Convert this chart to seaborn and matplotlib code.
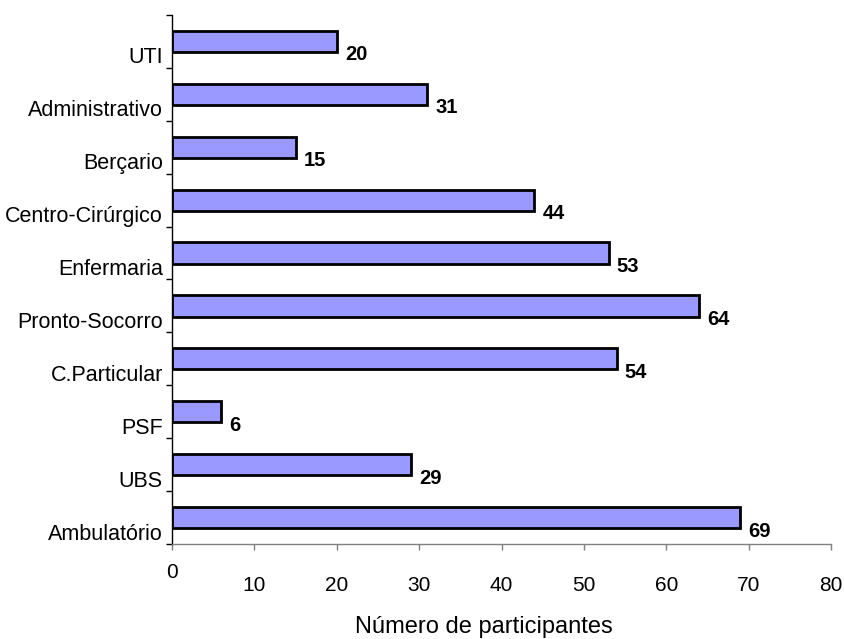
import matplotlib
matplotlib.use("Agg")
import matplotlib.pyplot as plt
from matplotlib.transforms import ScaledTranslation
import numpy as np
import pandas as pd
import seaborn as sns

# Setores de atuação (de cima para baixo) e número de participantes
setores = ["UTI", "Administrativo", "Berçario", "Centro-Cirúrgico", "Enfermaria",
           "Pronto-Socorro", "C.Particular", "PSF", "UBS", "Ambulatório"]
participantes = [20, 31, 15, 44, 53, 64, 54, 6, 29, 69]
x_ticks = [0, 10, 20, 30, 40, 50, 60, 70, 80]
x_label = "Número de participantes"

sns.set_style("ticks")
plt.rcParams["font.family"] = ["Liberation Sans", "DejaVu Sans"]
plt.rcParams.update({"text.color": "black", "axes.labelcolor": "black",
                     "xtick.color": "black", "ytick.color": "black"})

W, H = 845, 639
fig = plt.figure(figsize=(W / 100, H / 100), dpi=100)
ax = fig.add_axes([172 / W, 1 - 544 / H, (831 - 172) / W, (544 - 15) / H])

df = pd.DataFrame({"setor": setores, "n": participantes})
sns.barplot(data=df, x="n", y="setor", orient="h", order=setores,
            color="#9999FF", saturation=1, width=0.4,
            edgecolor="black", linewidth=2.0, ax=ax)

ax.set_xlim(0, 80)
ax.set_ylim(len(setores) - 0.5, -0.5)

# Eixo vertical: marcas nos limites das categorias, rótulos deslocados para baixo
ax.set_yticks(range(len(setores)))
ax.set_yticklabels(setores, fontsize=15.5)
ax.set_yticks(np.arange(-0.5, len(setores), 1), minor=True)
ax.tick_params(axis="y", which="major", length=0, pad=6.5, labelcolor="black")
ax.tick_params(axis="y", which="minor", length=4.3, width=1, color="black",
               direction="out")
down = ScaledTranslation(0, -14 / 100, fig.dpi_scale_trans)
for lab in ax.get_yticklabels():
    lab.set_transform(lab.get_transform() + down)

# Eixo horizontal
ax.set_xticks(x_ticks)
ax.set_xticklabels([str(t) for t in x_ticks], fontsize=15)
ax.tick_params(axis="x", which="major", length=4.3, width=1, color="#808080",
               labelcolor="black", pad=18.5, direction="out")
up = ScaledTranslation(0, 13 / 100, fig.dpi_scale_trans)
xl = ax.get_xticklabels()
xl[0].set_transform(xl[0].get_transform() + up)

ax.set_ylabel("")
ax.set_xlabel(x_label, fontsize=17, color="black")
ax.xaxis.set_label_coords((484 - 172) / 659, (544 - 633) / 529)
ax.xaxis.label.set_va("baseline")

for side in ("top", "right"):
    ax.spines[side].set_visible(False)
ax.spines["left"].set_color("black")
ax.spines["left"].set_linewidth(1)
ax.spines["bottom"].set_color("#808080")
ax.spines["bottom"].set_linewidth(1)

# Valores ao lado de cada barra
for i, v in enumerate(participantes):
    ax.annotate(str(v), xy=(v, i), xytext=(5.8, -9.7), textcoords="offset points",
                ha="left", va="center", fontsize=14.5, fontweight="bold",
                color="black")

fig.savefig("out.png", dpi=100)
